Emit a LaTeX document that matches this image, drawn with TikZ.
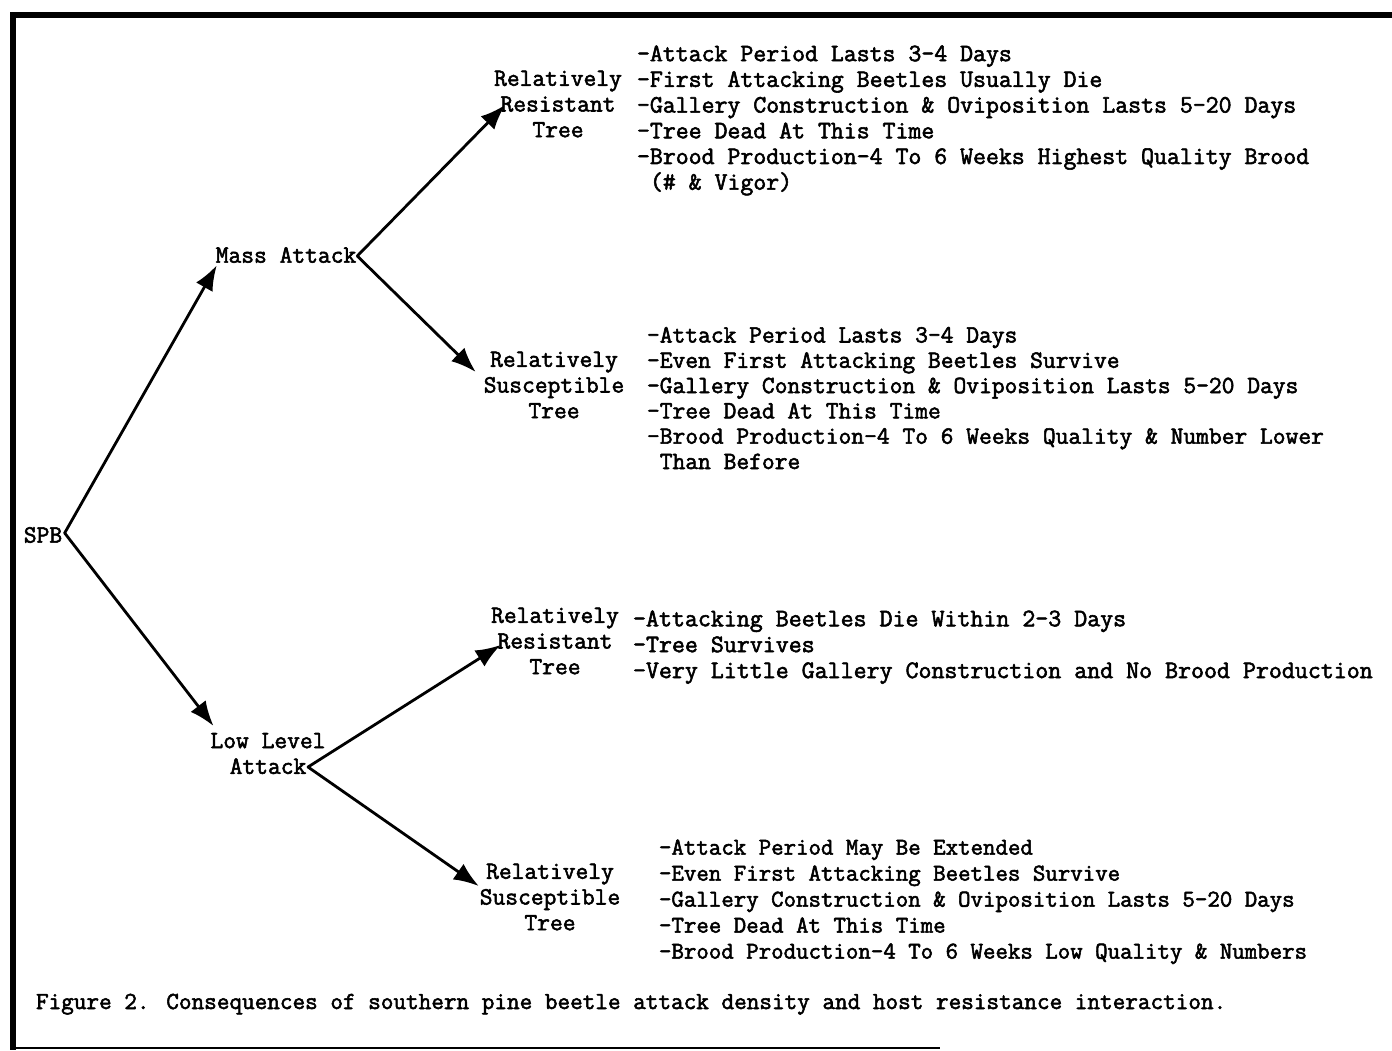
\documentclass[tikz,border=0pt]{standalone}
\usepackage{fontspec}
\newfontfamily\tw[FakeBold=2.2]{Latin Modern Mono}
\usetikzlibrary{arrows.meta,calc}
\begin{document}
\begin{tikzpicture}[x=1pt,y=-1pt,
  txt/.style={font=\tw\fontsize{24.8}{25.7}\selectfont, inner sep=0pt, outer sep=0pt},
  blk/.style={txt, align=left, anchor=north west},
  lab/.style={txt, align=center},
  arr/.style={line width=2.8pt, line cap=round, -{Latex[length=25pt,width=19pt]}},
  frame/.style={line width=6pt}]
\fill[white] (0,0) rectangle (1392,1050);
\useasboundingbox (0,0) rectangle (1392,1050);
% frame
\draw[frame] (10,15) -- (1392,15);
\draw[frame] (13,12) -- (13,1050);
\draw[line width=1.5pt] (10,1048) -- (940,1048);
% nodes
\node[txt] (spb) at (43,535) {SPB};
\node[txt] (ma) at (286,255) {Mass Attack};
\node[lab] (ll) at (268,753.5) {Low Level\\Attack};
\node[lab] (l1) at (558,104) {Relatively\\Resistant\\Tree};
\node[lab] (l2) at (554,385) {Relatively\\Susceptible\\Tree};
\node[lab] (l3) at (555,641) {Relatively\\Resistant\\Tree};
\node[lab] (l4) at (550,897) {Relatively\\Susceptible\\Tree};
\node[blk, font=\tw\fontsize{25.1}{25.7}\selectfont] (b1) at (637,45.5) {-Attack Period Lasts 3-4 Days\\-First Attacking Beetles Usually Die\\-Gallery Construction \& Oviposition Lasts 5-20 Days\\-Tree Dead At This Time\\-Brood Production-4 To 6 Weeks Highest Quality Brood\\\phantom{-}(\# \& Vigor)};
\node[blk, font=\tw\fontsize{24.8}{25.3}\selectfont] (b2) at (647,327) {-Attack Period Lasts 3-4 Days\\-Even First Attacking Beetles Survive\\-Gallery Construction \& Oviposition Lasts 5-20 Days\\-Tree Dead At This Time\\-Brood Production-4 To 6 Weeks Quality \& Number Lower\\\phantom{-}Than Before};
\node[blk, font=\tw\fontsize{25.2}{25.9}\selectfont] (b3) at (633,610.5) {-Attacking Beetles Die Within 2-3 Days\\-Tree Survives\\-Very Little Gallery Construction and No Brood Production};
\node[blk, font=\tw\fontsize{24.2}{26}\selectfont] (b4) at (659,839.5) {-Attack Period May Be Extended\\-Even First Attacking Beetles Survive\\-Gallery Construction \& Oviposition Lasts 5-20 Days\\-Tree Dead At This Time\\-Brood Production-4 To 6 Weeks Low Quality \& Numbers};
\node[txt, font=\tw\fontsize{24.5}{25}\selectfont, anchor=base west] (cap) at (36,1009) {Figure 2. Consequences of southern pine beetle attack density and host resistance interaction.};
% connectors
\coordinate (v0) at ($(spb.east)+(2.5,-2)$);
\coordinate (v1) at ($(ma.east)+(1,1)$);
\coordinate (v2) at ($(ll.south)+(40,-7)$);
\draw[arr] (v0) -- ($(ma.south west)+(1,2.5)$);
\draw[arr] (v0) -- ($(ll.north west)+(3,-7)$);
\draw[arr] (v1) -- ($(l1.west)+(11,1)$);
\draw[arr] (v1) -- ($(l2.west)+(-8,-13)$);
\draw[arr] (v2) -- ($(l3.west)+(9.5,4)$);
\draw[arr] (v2) -- ($(l4.west)+(-1,-11)$);
\end{tikzpicture}
\end{document}
